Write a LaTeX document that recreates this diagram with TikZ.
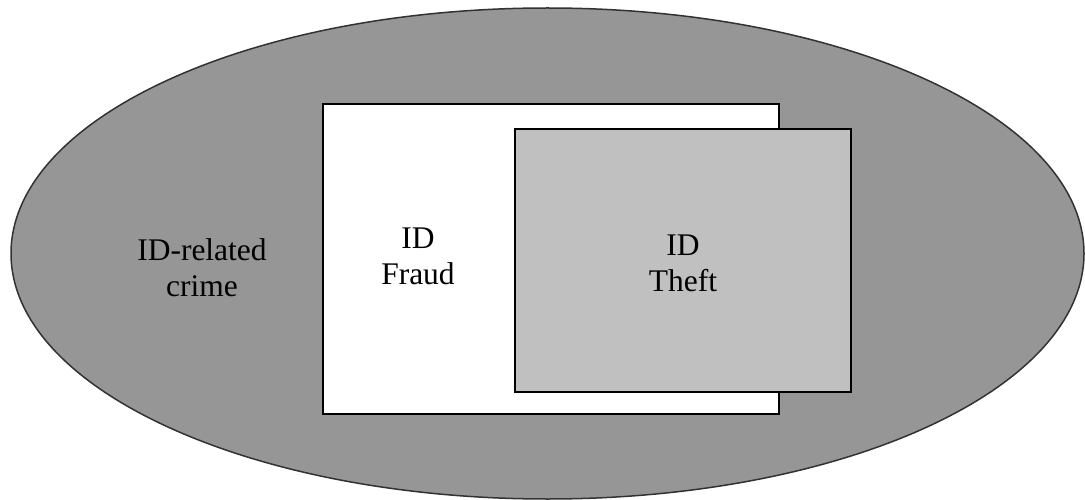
\documentclass[tikz,border=0pt]{standalone}
\usepackage{fontspec}
\setmainfont{Liberation Serif}
\definecolor{outergray}{RGB}{150,150,150}
\definecolor{innergray}{RGB}{192,192,192}
\definecolor{edgegray}{RGB}{50,50,50}
\begin{document}
\begin{tikzpicture}[x=1pt,y=-1pt,
  lbl/.style={align=center,inner sep=0pt,font=\fontsize{31.5}{36}\selectfont},
  boxline/.style={draw=black,line width=2pt}]
\useasboundingbox (0,0) rectangle (1085,500);
\draw[fill=outergray,draw=edgegray,line width=1.5pt] (547.5,253.5) ellipse [x radius=536.5, y radius=245.5];
\draw[boxline,fill=white] (323,104) rectangle (779,414);
\draw[boxline,fill=innergray] (515,129) rectangle (851,392);
\node[lbl] (crime) at (202,268) {ID-related\\crime};
\node[lbl] (fraud) at (418,256.5) {ID\\Fraud};
\node[lbl] (theft) at (683,263.5) {ID\\Theft};
\end{tikzpicture}
\end{document}
